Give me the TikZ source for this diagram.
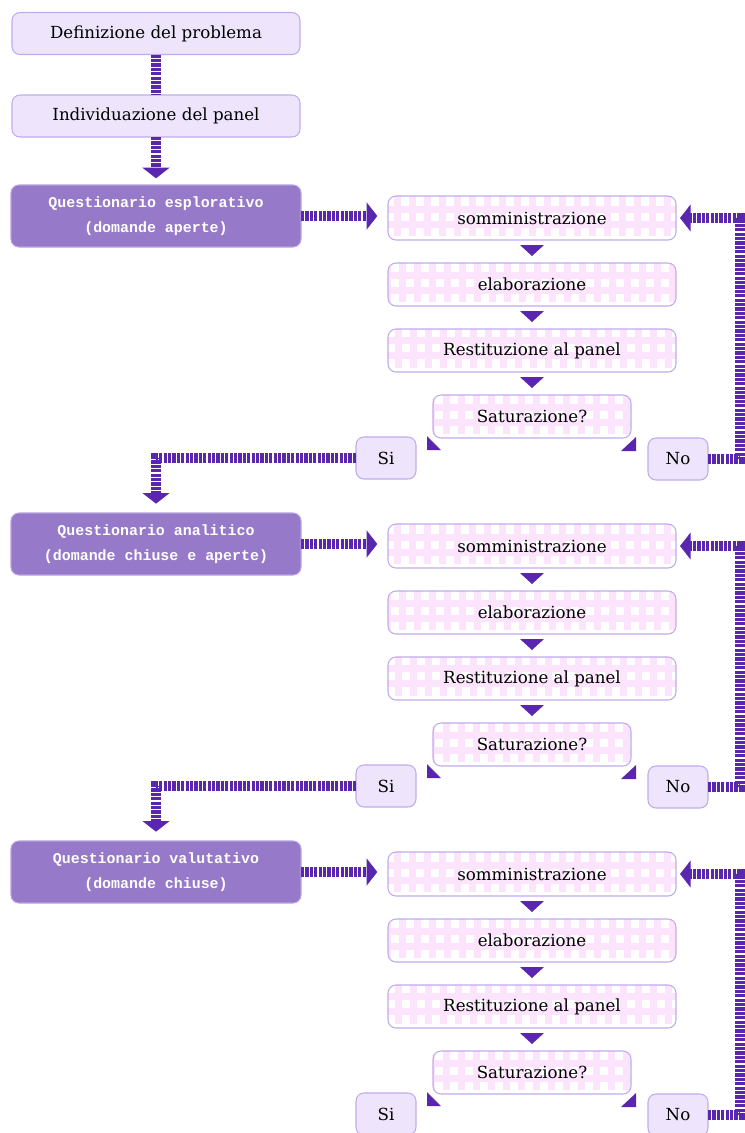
\documentclass[tikz,border=0pt]{standalone}
\usepackage{fontspec}
\setmainfont{DejaVu Serif}
\newfontfamily\qfont{Liberation Mono}
\usetikzlibrary{arrows.meta,calc}
\definecolor{lav}{HTML}{EEE5FC}
\definecolor{lavedge}{HTML}{C0ABEA}
\definecolor{dark}{HTML}{9779C9}
\definecolor{darkedge}{HTML}{B8A2E2}
\definecolor{pur}{HTML}{5A26B0}
\definecolor{pinkc}{HTML}{FCE4FC}
\begin{document}
\begin{tikzpicture}[x=0.75pt,y=-0.75pt,
  base/.style={rounded corners=6pt, inner sep=0pt, outer sep=0pt, line width=0.8pt, align=center, font=\fontsize{12.5}{15}\selectfont},
  lbox/.style={base, fill=lav, draw=lavedge},
  dbox/.style={base, fill=dark, draw=darkedge, text=white, font=\qfont\bfseries\fontsize{11.2}{19}\selectfont},
  cbox/.style={base, fill=white, draw=lavedge,
    path picture={\draw[pinkc,line width=5.25pt] ([shift={(-4,-4)}]path picture bounding box.south west) grid[step=11.25pt] (path picture bounding box.north east);}},
  conn/.style={draw=pur, line width=7pt, dash pattern=on 2.4pt off 0.9pt},
  arr/.style={conn, -{Triangle[width=20pt,length=8pt]}},
  tri/.style={fill=pur}
]
\useasboundingbox (0,0) rectangle (745,1133);
\clip (0,0) rectangle (745,1133);

\node[lbox, minimum width=288*0.75pt, minimum height=42*0.75pt] (def) at (156,33.5) {Definizione del problema};
\node[lbox, minimum width=288*0.75pt, minimum height=42*0.75pt] (ind) at (156,116) {Individuazione del panel};
\draw[conn] (def) -- (ind);

\foreach \b/\o/\ta/\tb in {1/0/Questionario esplorativo/(domande aperte),
                           2/328/Questionario analitico/(domande chiuse e aperte),
                           3/656/Questionario valutativo/(domande chiuse)}{
  \node[dbox, minimum width=290*0.75pt, minimum height=62*0.75pt] (d\b) at (156,216+\o) {\ta\\\tb};
  \node[cbox, minimum width=288*0.75pt, minimum height=44*0.75pt] (s\b) at (532,218+\o) {somministrazione};
  \node[cbox, minimum width=288*0.75pt, minimum height=43*0.75pt] (e\b) at (532,284.5+\o) {elaborazione};
  \node[cbox, minimum width=288*0.75pt, minimum height=43*0.75pt] (r\b) at (532,350.5+\o) {Restituzione al panel};
  \node[cbox, minimum width=198*0.75pt, minimum height=43*0.75pt] (t\b) at (532,416.5+\o) {Saturazione?};
  \node[lbox, minimum width=60*0.75pt, minimum height=42*0.75pt] (si\b) at (386,458+\o) {Si};
  \node[lbox, minimum width=60*0.75pt, minimum height=42*0.75pt] (n\b) at (678,459+\o) {No};
  \fill[tri] ($(s\b.south)+(-12,5)$) -- ++(24,0) -- ($(s\b.south)+(0,16)$) -- cycle;
  \fill[tri] ($(e\b.south)+(-12,5)$) -- ++(24,0) -- ($(e\b.south)+(0,16)$) -- cycle;
  \fill[tri] ($(r\b.south)+(-12,5)$) -- ++(24,0) -- ($(r\b.south)+(0,16)$) -- cycle;
  \fill[tri] ($(t\b.south west)+(-6,-2)$) -- ($(t\b.south west)+(-6,12)$) -- ($(t\b.south west)+(8,12)$) -- cycle;
  \fill[tri] ($(t\b.south east)+(5,-1)$) -- ($(t\b.south east)+(5,13)$) -- ($(t\b.south east)+(-10,13)$) -- cycle;
  \draw[arr, shorten >=8pt] (d\b.east) -- (d\b.east -| s\b.west);
  \draw[arr, shorten >=3pt] (n\b.east) -- ++(32,0) |- (s\b.east);
}
\draw[arr, shorten >=5pt] (ind) -- (d1);
\draw[arr, shorten >=7pt] (si1.west) -| (d2.north);
\draw[arr, shorten >=7pt] (si2.west) -| (d3.north);
\end{tikzpicture}
\end{document}
